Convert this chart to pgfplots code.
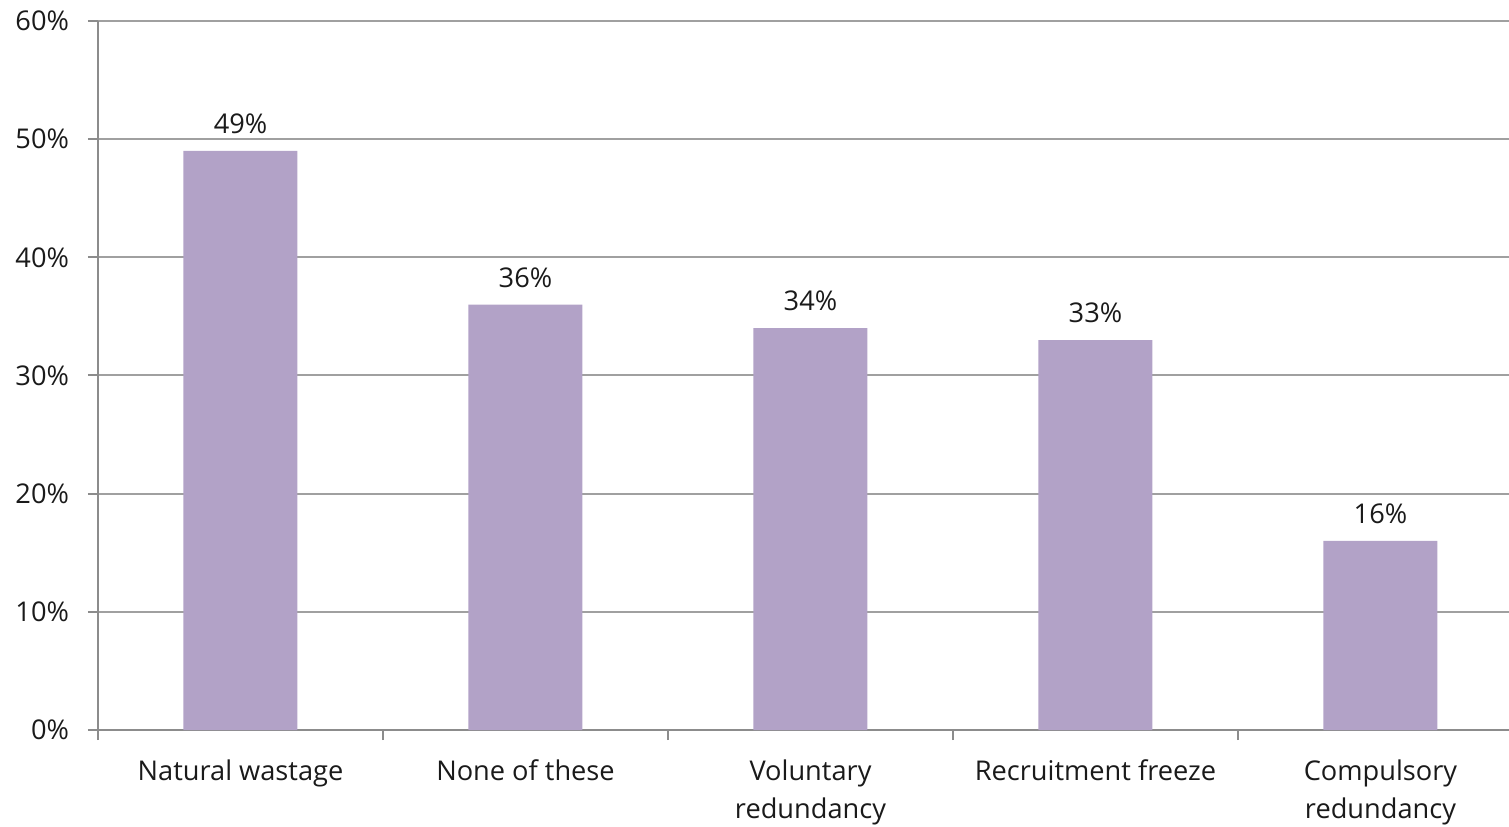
\documentclass[border=0pt]{standalone}
\usepackage{fontspec}
\setmainfont{Open Sans}
\usepackage{pgfplots}
\pgfplotsset{compat=1.18}
\definecolor{barc}{HTML}{B2A2C7}
\definecolor{gridc}{HTML}{A0A0A0}
\definecolor{axc}{HTML}{8C8C8C}
\definecolor{txt}{HTML}{1A1A1A}
\begin{document}
\begin{tikzpicture}
\begin{axis}[
  name=ax,
  scale only axis,
  width=705.5bp, height=354.5bp,
  xmin=-0.5, xmax=4.451, ymin=0, ymax=60,
  ytick={0,10,...,60},
  yticklabel={\pgfmathprintnumber{\tick}\%},
  xtick={0,1,2,3,4},
  xticklabels={Natural wastage, None of these, Voluntary\\redundancy, Recruitment freeze, Compulsory\\redundancy},
  minor xtick={-0.5,0.5,1.5,2.5,3.5},
  major x tick style={draw=none},
  tick align=outside,
  major tick length=5bp,
  minor tick length=5bp,
  tick style={axc, line width=1bp},
  axis x line*=bottom, axis y line*=left,
  axis line style={axc, line width=1bp, -},
  ymajorgrids, grid style={gridc, line width=1bp},
  x tick label style={align=center, font=\fontsize{13.6bp}{19bp}\selectfont, text=txt, anchor=north, yshift=-6.5bp},
  y tick label style={font=\fontsize{13.6bp}{19bp}\selectfont, text=txt, xshift=-6bp},
  /pgf/number format/assume math mode=true,
  ybar, bar width=57bp,
  nodes near coords={\pgfmathprintnumber{\pgfplotspointmeta}\%},
  every node near coord/.append style={font=\fontsize{13.6bp}{19bp}\selectfont, text=txt, yshift=5bp},
  clip=false,
]
\addplot[fill=barc, draw=none] coordinates {(0,49) (1,36) (2,34) (3,33) (4,16)};
\end{axis}
\pgfresetboundingbox
\path ([xshift=-49bp,yshift=-48.5bp]ax.south west) rectangle ([yshift=10.5bp]ax.north east);
\end{tikzpicture}
\end{document}
